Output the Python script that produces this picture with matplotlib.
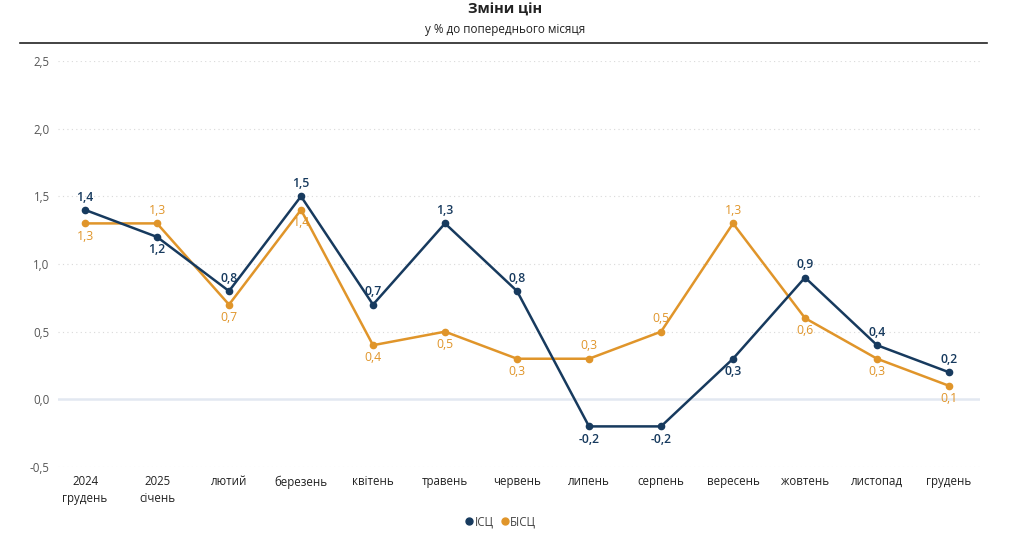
import matplotlib
matplotlib.use("Agg")
import matplotlib.pyplot as plt
from matplotlib.lines import Line2D

plt.rcParams['font.family'] = ['Open Sans', 'DejaVu Sans']

categories = ["2024\nгрудень", "2025\nсічень", "лютий", "березень", "квітень", "травень",
              "червень", "липень", "серпень", "вересень", "жовтень", "листопад", "грудень"]
isc = [1.4, 1.2, 0.8, 1.5, 0.7, 1.3, 0.8, -0.2, -0.2, 0.3, 0.9, 0.4, 0.2]
bisc = [1.3, 1.3, 0.7, 1.4, 0.4, 0.5, 0.3, 0.3, 0.5, 1.3, 0.6, 0.3, 0.1]
# label placement: +1 above, -1 below
isc_pos = [1, -1, 1, 1, 1, 1, 1, -1, -1, -1, 1, 1, 1]
bisc_pos = [-1, 1, -1, -1, -1, -1, -1, 1, 1, 1, -1, -1, -1]
yticks = [-0.5, 0.0, 0.5, 1.0, 1.5, 2.0, 2.5]

c_isc = "#173a5e"
c_bisc = "#e0952a"

fig = plt.figure(figsize=(10.11, 5.36), dpi=100)
ax = fig.add_axes([58/1011, (536-467)/536, (980-58)/1011, (467-61)/536])

x = list(range(len(categories)))
ax.set_xlim(-0.375, 12.43)
ax.set_ylim(-0.5, 2.5)

for yt in yticks:
    if yt == 0:
        ax.axhline(0, color="#e2e8f1", lw=1.8, zorder=1)
    else:
        ax.axhline(yt, color="#d9d9d9", lw=0.8, ls=(0, (1, 3)), zorder=1)

ax.plot(x, isc, color=c_isc, lw=1.8, marker="o", ms=4.5, zorder=4)
ax.plot(x, bisc, color=c_bisc, lw=1.8, marker="o", ms=4.5, zorder=3)

def fmt(v):
    return f"{v:.1f}".replace(".", ",")

for xi, v, p in zip(x, isc, isc_pos):
    ax.annotate(fmt(v), (xi, v), xytext=(0, 4.5 * p), textcoords="offset points",
                ha="center", va="bottom" if p > 0 else "top", color=c_isc,
                fontsize=8.8, fontweight="semibold", zorder=5)
for xi, v, p in zip(x, bisc, bisc_pos):
    ax.annotate(fmt(v), (xi, v), xytext=(0, 4.5 * p), textcoords="offset points",
                ha="center", va="bottom" if p > 0 else "top", color=c_bisc,
                fontsize=8.8, zorder=5)

ax.set_yticks(yticks)
ax.set_yticklabels([fmt(v) for v in yticks], fontsize=8.3, color="#555555")
ax.set_xticks(x)
ax.set_xticklabels(categories, fontsize=8.3, color="#222222", linespacing=1.35)
ax.tick_params(length=0, pad=6)
for s in ax.spines.values():
    s.set_visible(False)

fig.text(0.5, 1 - 10/536, "Зміни цін", ha="center", va="center", fontsize=10.5,
         fontweight="bold", color="#222222")
fig.text(0.5, 1 - 29/536, "у % до попереднього місяця", ha="center", va="center",
         fontsize=8.4, color="#222222")
fig.add_artist(Line2D([20/1011, 987/1011], [1 - 43/536, 1 - 43/536],
                      color="#222222", lw=1.2, transform=fig.transFigure))

handles = [Line2D([], [], color=c_isc, marker="o", ls="none", ms=5),
           Line2D([], [], color=c_bisc, marker="o", ls="none", ms=5)]
fig.legend(handles, ["ІСЦ", "БІСЦ"], loc="center", bbox_to_anchor=(500/1011, 1 - 522/536),
           ncol=2, frameon=False, fontsize=8.3, handletextpad=0.0, columnspacing=0.4,
           handlelength=1.0, labelcolor="#444444")

fig.savefig("out.png", dpi=100)
